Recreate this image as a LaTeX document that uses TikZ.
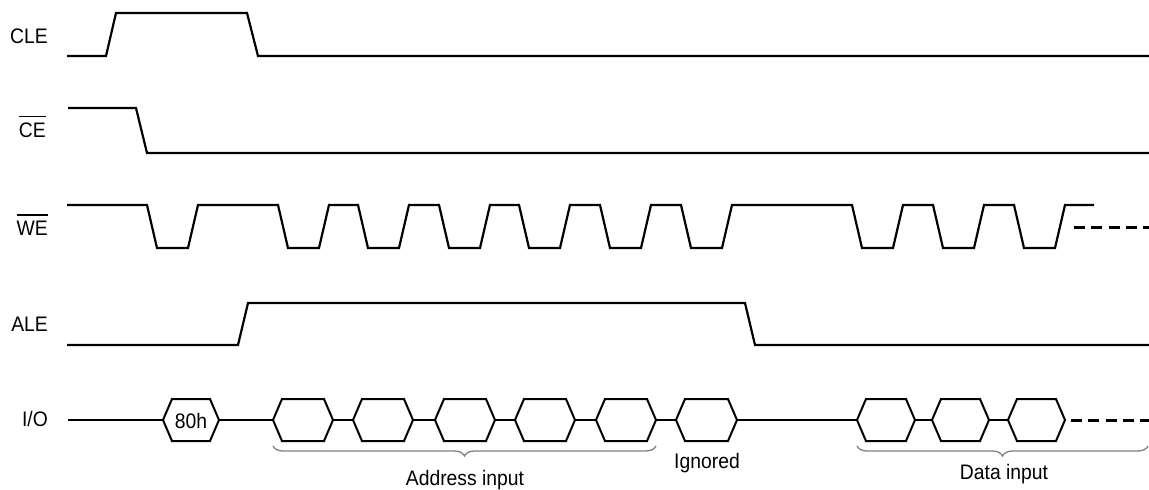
\documentclass[tikz,border=0pt]{standalone}
\usepackage{fontspec}
\setmainfont{Liberation Sans}
\usetikzlibrary{decorations.pathreplacing}
\newcommand\ovlbar[1]{\vbox{\hrule height 1.2pt\kern 5pt\hbox{#1}}}
\begin{document}
\begin{tikzpicture}[x=1pt,y=-1pt,
  sig/.style={line width=2.2pt, line join=miter},
  hexline/.style={line width=2pt, line join=miter},
  lbl/.style={font=\fontsize{21}{24}\selectfont, xscale=0.92, inner sep=0pt, anchor=base east},
  txt/.style={font=\fontsize{21}{24}\selectfont, xscale=0.92, inner sep=0pt, anchor=base},
  brc/.style={decorate, decoration={brace, mirror, amplitude=10pt}, line width=1.3pt, gray},
  dsh/.style={line width=3pt, dash pattern=on 11pt off 6.3pt}]
\useasboundingbox (0,0) rectangle (1149,490);

% signal names
\node[lbl] (cle) at (48,43) {CLE};
\node[lbl] (ce) at (46,137) {\ovlbar{CE}};
\node[lbl] (we) at (48,235) {\ovlbar{WE}};
\node[lbl] (ale) at (48,331) {ALE};
\node[lbl] (io) at (48,426) {I/O};

% CLE
\draw[sig] (67,56) -- (106,56) -- (116,13) -- (247,13) -- (258,56) -- (1149,56);
% CE
\draw[sig] (68,108) -- (136,108) -- (147,153) -- (1149,153);
% WE
\draw[sig] (67,205)
  \foreach \f in {147,278,358,439,519,600,681,852,933,1014} {
    -- (\f,205) -- ({\f+10},248) -- ({\f+41},248) -- ({\f+51},205)
  } -- (1094,205);
\draw[dsh] (1074,227) -- (1149,227);
% ALE
\draw[sig] (67,345) -- (238,345) -- (248,303) -- (745,303) -- (755,345) -- (1149,345);

% I/O bus
\foreach \a/\b in {68/163, 219/273, 333/353, 413/435, 495/515, 575/596, 656/676, 737/857, 915/932, 989/1008}
  \draw[sig] (\a,420) -- (\b,420);
\foreach \a/\b in {163/219, 273/333, 353/413, 435/495, 515/575, 596/656, 676/737, 857/915, 932/989, 1008/1065}
  \draw[hexline] (\a,420) -- ({\a+9},399) -- ({\b-9},399) -- (\b,420) -- ({\b-9},441) -- ({\a+9},441) -- cycle;
\node[txt, anchor=center] (h80) at (191,421) {80h};
\draw[dsh] (1071,420) -- (1149,420);

% braces and labels
\draw[brc] (273,446) -- (656,446);
\draw[brc] (857,446) -- (1148,446);
\node[txt] (addr) at (465,485) {Address input};
\node[txt] (ign) at (707,468) {Ignored};
\node[txt] (dat) at (1004,479) {Data input};
\end{tikzpicture}
\end{document}
